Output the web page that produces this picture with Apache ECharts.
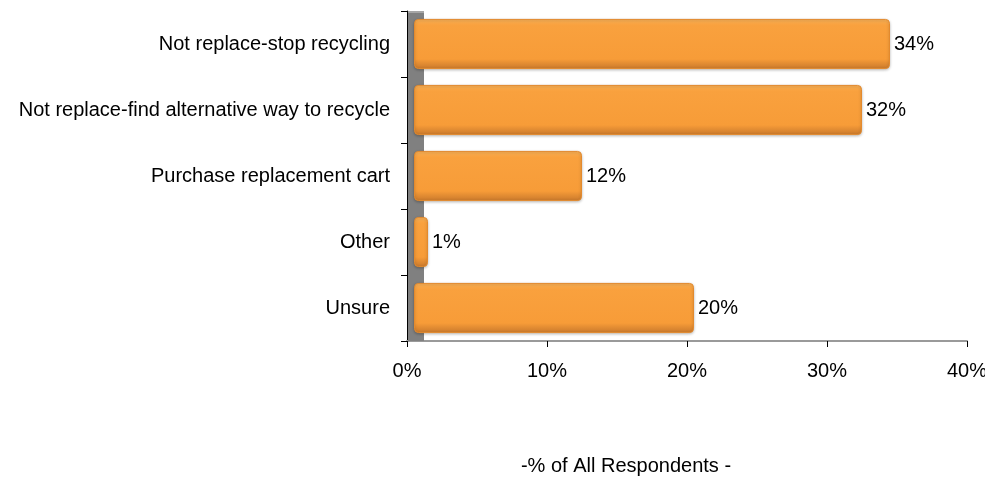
<!DOCTYPE html>
<html>
<head>
<meta charset="utf-8">
<script src="https://cdn.jsdelivr.net/npm/echarts@6/dist/echarts.min.js"></script>
<style>
  html, body { margin: 0; padding: 0; background: #fff; }
  #chart { width: 985px; height: 486px; }
</style>
</head>
<body>
<div id="chart"></div>
<script>
// data
const categories = [
  'Not replace-stop recycling',
  'Not replace-find alternative way to recycle',
  'Purchase replacement cart',
  'Other',
  'Unsure'
];
const shares = [34, 32, 12, 1, 20];
const axisTitle = '-% of All Respondents -';

const font = 'Liberation Sans, Arial, sans-serif';
const fontSize = 20;

const chart = echarts.init(document.getElementById('chart'));

// orange bar with a darker lower edge, like the old 3D office charts
const barFill = new echarts.graphic.LinearGradient(0, 0, 0, 1, [
  { offset: 0, color: '#FDB55A' },
  { offset: 0.12, color: '#F9A13E' },
  { offset: 0.8, color: '#F79C38' },
  { offset: 1, color: '#C8782C' }
]);

const option = {
  animation: false,
  title: {
    text: axisTitle,
    left: 621,
    top: 451,
    textAlign: 'center',
    textStyle: { fontFamily: font, fontSize: fontSize, fontWeight: 'normal', color: '#000' }
  },
  // grid 0 carries the visible axes, grid 1 the bars (pushed right a bit for the 3D wall)
  grid: [
    { left: 407, right: 18, top: 11, bottom: 145, outerBoundsMode: 'none' },
    { left: 414, right: 11, top: 11, bottom: 145, outerBoundsMode: 'none' }
  ],
  graphic: [
    {
      type: 'rect',
      z: 1,
      shape: { x: 408, y: 11, width: 16, height: 330 },
      style: { fill: '#808080' }
    },
    {
      type: 'rect',
      z: 1,
      shape: { x: 408, y: 11, width: 16, height: 2 },
      style: { fill: '#A6A6A6' }
    }
  ],
  xAxis: [
    {
      gridIndex: 0,
      type: 'value',
      min: 0,
      max: 40,
      interval: 10,
      axisLine: { show: true, lineStyle: { color: '#9A9A9A', width: 2 } },
      axisTick: { show: true, length: 6, lineStyle: { color: '#000' } },
      splitLine: { show: false },
      axisLabel: {
        margin: 20,
        fontFamily: font,
        fontSize: fontSize,
        color: '#000',
        formatter: v => v + '%'
      }
    },
    {
      gridIndex: 1,
      type: 'value',
      min: 0,
      max: 40,
      show: false
    }
  ],
  yAxis: [
    {
      gridIndex: 0,
      type: 'category',
      data: categories,
      inverse: true,
      axisLine: { show: true, lineStyle: { color: '#000', width: 1 } },
      axisTick: { show: true, length: 6, lineStyle: { color: '#000' } },
      axisLabel: {
        margin: 17,
        fontFamily: font,
        fontSize: fontSize,
        color: '#000'
      }
    },
    {
      gridIndex: 1,
      type: 'category',
      data: categories,
      inverse: true,
      show: false
    }
  ],
  series: [
    {
      type: 'bar',
      xAxisIndex: 1,
      yAxisIndex: 1,
      data: shares,
      barCategoryGap: '24%',
      z: 3,
      itemStyle: {
        color: barFill,
        borderColor: '#E38A2E',
        borderWidth: 1,
        borderRadius: 4,
        shadowColor: 'rgba(0,0,0,0.25)',
        shadowBlur: 3,
        shadowOffsetY: 1
      },
      label: {
        show: true,
        position: 'right',
        distance: 4,
        fontFamily: font,
        fontSize: fontSize,
        color: '#000',
        formatter: p => p.value + '%'
      }
    }
  ]
};

chart.setOption(option);
</script>
</body>
</html>
